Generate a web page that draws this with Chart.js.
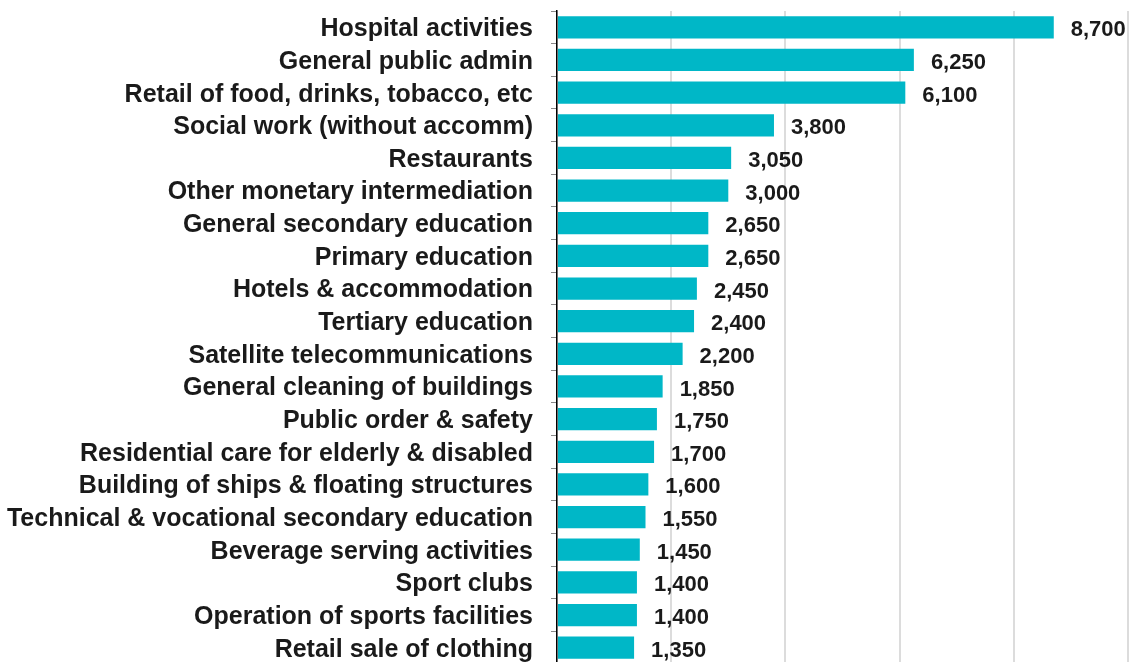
<!DOCTYPE html>
<html>
<head>
<meta charset="utf-8">
<script src="https://cdn.jsdelivr.net/npm/chart.js@4/dist/chart.umd.min.js"></script>
<style>
  html, body { margin: 0; padding: 0; background: #fff; overflow: hidden; }
  #wrap { position: relative; width: 1131px; height: 719px; margin-top: -22px; }
</style>
</head>
<body>
<div id="wrap"><canvas id="chart"></canvas></div>
<script>
// Employment by industry
const industries = [
  'Hospital activities',
  'General public admin',
  'Retail of food, drinks, tobacco, etc',
  'Social work (without accomm)',
  'Restaurants',
  'Other monetary intermediation',
  'General secondary education',
  'Primary education',
  'Hotels & accommodation',
  'Tertiary education',
  'Satellite telecommunications',
  'General cleaning of buildings',
  'Public order & safety',
  'Residential care for elderly & disabled',
  'Building of ships & floating structures',
  'Technical & vocational secondary education',
  'Beverage serving activities',
  'Sport clubs',
  'Operation of sports facilities',
  'Retail sale of clothing'
];
const jobs = [8700, 6250, 6100, 3800, 3050, 3000, 2650, 2650, 2450, 2400,
  2200, 1850, 1750, 1700, 1600, 1550, 1450, 1400, 1400, 1350];
const xTicks = [0, 2000, 4000, 6000, 8000, 10000];

const barColor = '#00b7c7';
const textColor = '#1a1a1a';
const fontFamily = 'Liberation Sans, Arial, sans-serif';

// draws the value next to each bar
const valueLabels = {
  id: 'valueLabels',
  afterDatasetsDraw(chart) {
    const ctx = chart.ctx;
    const meta = chart.getDatasetMeta(0);
    ctx.save();
    ctx.font = `bold 22px ${fontFamily}`;
    ctx.fillStyle = textColor;
    ctx.textAlign = 'left';
    ctx.textBaseline = 'middle';
    meta.data.forEach((bar, i) => {
      ctx.fillText(jobs[i].toLocaleString('en-US'), bar.x + 17, bar.y + 3);
    });
    ctx.restore();
  }
};

new Chart(document.getElementById('chart'), {
  type: 'bar',
  data: {
    labels: industries,
    datasets: [{
      data: jobs,
      backgroundColor: barColor,
      borderWidth: 0,
      barPercentage: 0.68,
      categoryPercentage: 1
    }]
  },
  options: {
    indexAxis: 'y',
    responsive: true,
    maintainAspectRatio: false,
    animation: false,
    layout: { padding: { top: 0, right: 3, left: 0, bottom: 0 } },
    plugins: {
      legend: { display: false },
      tooltip: { enabled: false }
    },
    scales: {
      x: {
        min: xTicks[0],
        max: xTicks[xTicks.length - 1],
        afterBuildTicks: scale => { scale.ticks = xTicks.map(v => ({ value: v })); },
        ticks: { display: false },
        grid: { color: '#dcdcdc', lineWidth: 2, drawTicks: false },
        border: { display: false }
      },
      y: {
        afterFit: scale => { scale.width = 557; },
        ticks: {
          color: textColor,
          font: { family: fontFamily, size: 25, weight: 'bold' },
          padding: 18,
          labelOffset: 2,
          autoSkip: false
        },
        grid: { drawOnChartArea: false, drawTicks: true, tickLength: 6, color: '#888', offset: true },
        border: { display: true, color: '#000', width: 1.5 }
      }
    }
  },
  plugins: [valueLabels]
});
</script>
</body>
</html>
